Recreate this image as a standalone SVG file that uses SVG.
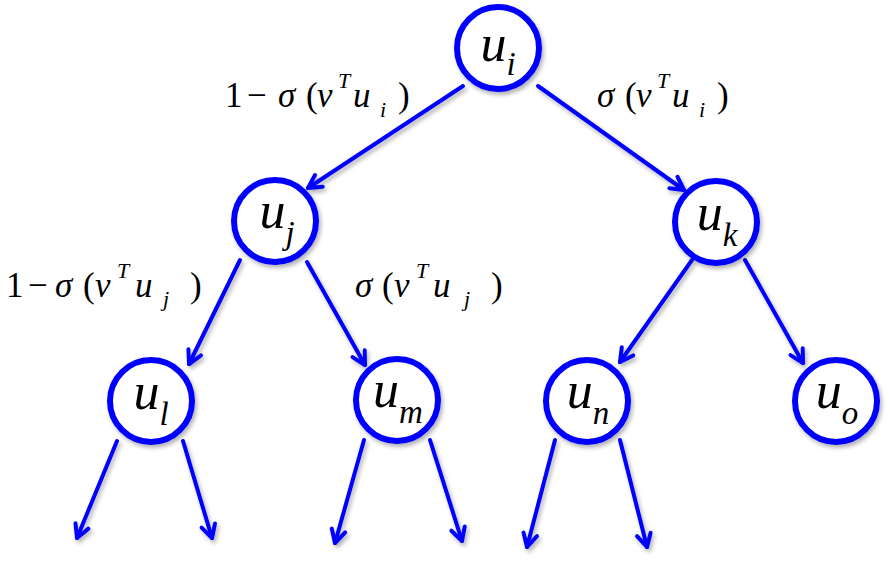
<svg xmlns="http://www.w3.org/2000/svg" width="890" height="580" viewBox="0 0 890 580">
<style>
text{font-family:'Liberation Serif','Times New Roman',serif;fill:#000}
.node circle{fill:#fff;stroke:#0000ff;stroke-width:6}
.nl{font-style:italic;font-size:52px}
.sub{font-size:33px}
.edge{stroke:#0000ff;stroke-width:4;fill:none;stroke-linecap:round}
.lab{font-size:35px}
.it{font-style:italic}
.sm{font-size:22px;font-style:italic}
</style>
<defs>
<marker id="ah" viewBox="0 0 20 20" refX="17" refY="10" markerWidth="20" markerHeight="20" markerUnits="userSpaceOnUse" orient="auto">
<path d="M4,3 L17,10 L4,17" fill="none" stroke="#0000ff" stroke-width="4" stroke-linecap="round" stroke-linejoin="round"/>
</marker>
<filter id="sh" x="-20%" y="-20%" width="150%" height="150%">
<feDropShadow dx="2" dy="3" stdDeviation="2" flood-color="#000" flood-opacity="0.3"/>
</filter>
</defs>
<g id="connectors" filter="url(#sh)">
<line class="edge" x1="463" y1="86" x2="308" y2="188" marker-end="url(#ah)"/>
<line class="edge" x1="538" y1="86" x2="684" y2="190" marker-end="url(#ah)"/>
<line class="edge" x1="240" y1="260" x2="189" y2="364" marker-end="url(#ah)"/>
<line class="edge" x1="307" y1="262" x2="365" y2="365" marker-end="url(#ah)"/>
<line class="edge" x1="692" y1="260" x2="620" y2="362" marker-end="url(#ah)"/>
<line class="edge" x1="745" y1="260" x2="803" y2="363" marker-end="url(#ah)"/>
<line class="edge" x1="117" y1="441" x2="77" y2="538" marker-end="url(#ah)"/>
<line class="edge" x1="183" y1="441" x2="212" y2="538" marker-end="url(#ah)"/>
<line class="edge" x1="364" y1="440" x2="335" y2="543" marker-end="url(#ah)"/>
<line class="edge" x1="430" y1="440" x2="462" y2="541" marker-end="url(#ah)"/>
<line class="edge" x1="555" y1="440" x2="527" y2="547" marker-end="url(#ah)"/>
<line class="edge" x1="620" y1="440" x2="647" y2="547" marker-end="url(#ah)"/>
</g>
<g id="node-ui" class="node"><circle cx="498" cy="48" r="41" filter="url(#sh)"/><text class="nl" x="498" y="61" text-anchor="middle">u<tspan class="sub" dy="14">i</tspan></text></g>
<g id="node-uj" class="node"><circle cx="275" cy="221" r="41" filter="url(#sh)"/><text class="nl" x="277" y="228" text-anchor="middle">u<tspan class="sub" dy="16">j</tspan></text></g>
<g id="node-uk" class="node"><circle cx="716" cy="222" r="41" filter="url(#sh)"/><text class="nl" x="717" y="230" text-anchor="middle">u<tspan class="sub" dy="16">k</tspan></text></g>
<g id="node-ul" class="node"><circle cx="151" cy="401" r="41" filter="url(#sh)"/><text class="nl" x="151" y="409" text-anchor="middle">u<tspan class="sub" dy="16">l</tspan></text></g>
<g id="node-um" class="node"><circle cx="397" cy="400" r="41" filter="url(#sh)"/><text class="nl" x="398" y="407" text-anchor="middle">u<tspan class="sub" dy="16">m</tspan></text></g>
<g id="node-un" class="node"><circle cx="587" cy="401" r="41" filter="url(#sh)"/><text class="nl" x="588" y="408" text-anchor="middle">u<tspan class="sub" dy="16">n</tspan></text></g>
<g id="node-uo" class="node"><circle cx="836" cy="401" r="41" filter="url(#sh)"/><text class="nl" x="837" y="408" text-anchor="middle">u<tspan class="sub" dy="16">o</tspan></text></g>
<g id="labels">
<text class="lab" y="107"><tspan x="225">1</tspan><tspan x="247">−</tspan><tspan x="278" class="it">σ</tspan><tspan x="306">(</tspan><tspan x="317" class="it">v</tspan><tspan x="338" y="88" class="sm">T</tspan><tspan x="353" y="107" class="it">u</tspan><tspan x="380" y="117" class="sm">i</tspan><tspan x="398" y="107">)</tspan></text>
<text class="lab" y="107"><tspan x="597" class="it">σ</tspan><tspan x="625">(</tspan><tspan x="636" class="it">v</tspan><tspan x="657" y="88" class="sm">T</tspan><tspan x="672" y="107" class="it">u</tspan><tspan x="699" y="117" class="sm">i</tspan><tspan x="717" y="107">)</tspan></text>
<text class="lab" y="297"><tspan x="6">1</tspan><tspan x="28">−</tspan><tspan x="55" class="it">σ</tspan><tspan x="83">(</tspan><tspan x="95" class="it">v</tspan><tspan x="117" y="278" class="sm">T</tspan><tspan x="135" y="297" class="it">u</tspan><tspan x="163" y="306" class="sm">j</tspan><tspan x="190" y="297">)</tspan></text>
<text class="lab" y="297"><tspan x="355" class="it">σ</tspan><tspan x="382">(</tspan><tspan x="394" class="it">v</tspan><tspan x="416" y="278" class="sm">T</tspan><tspan x="433" y="297" class="it">u</tspan><tspan x="464" y="306" class="sm">j</tspan><tspan x="491" y="297">)</tspan></text>
</g>
</svg>
